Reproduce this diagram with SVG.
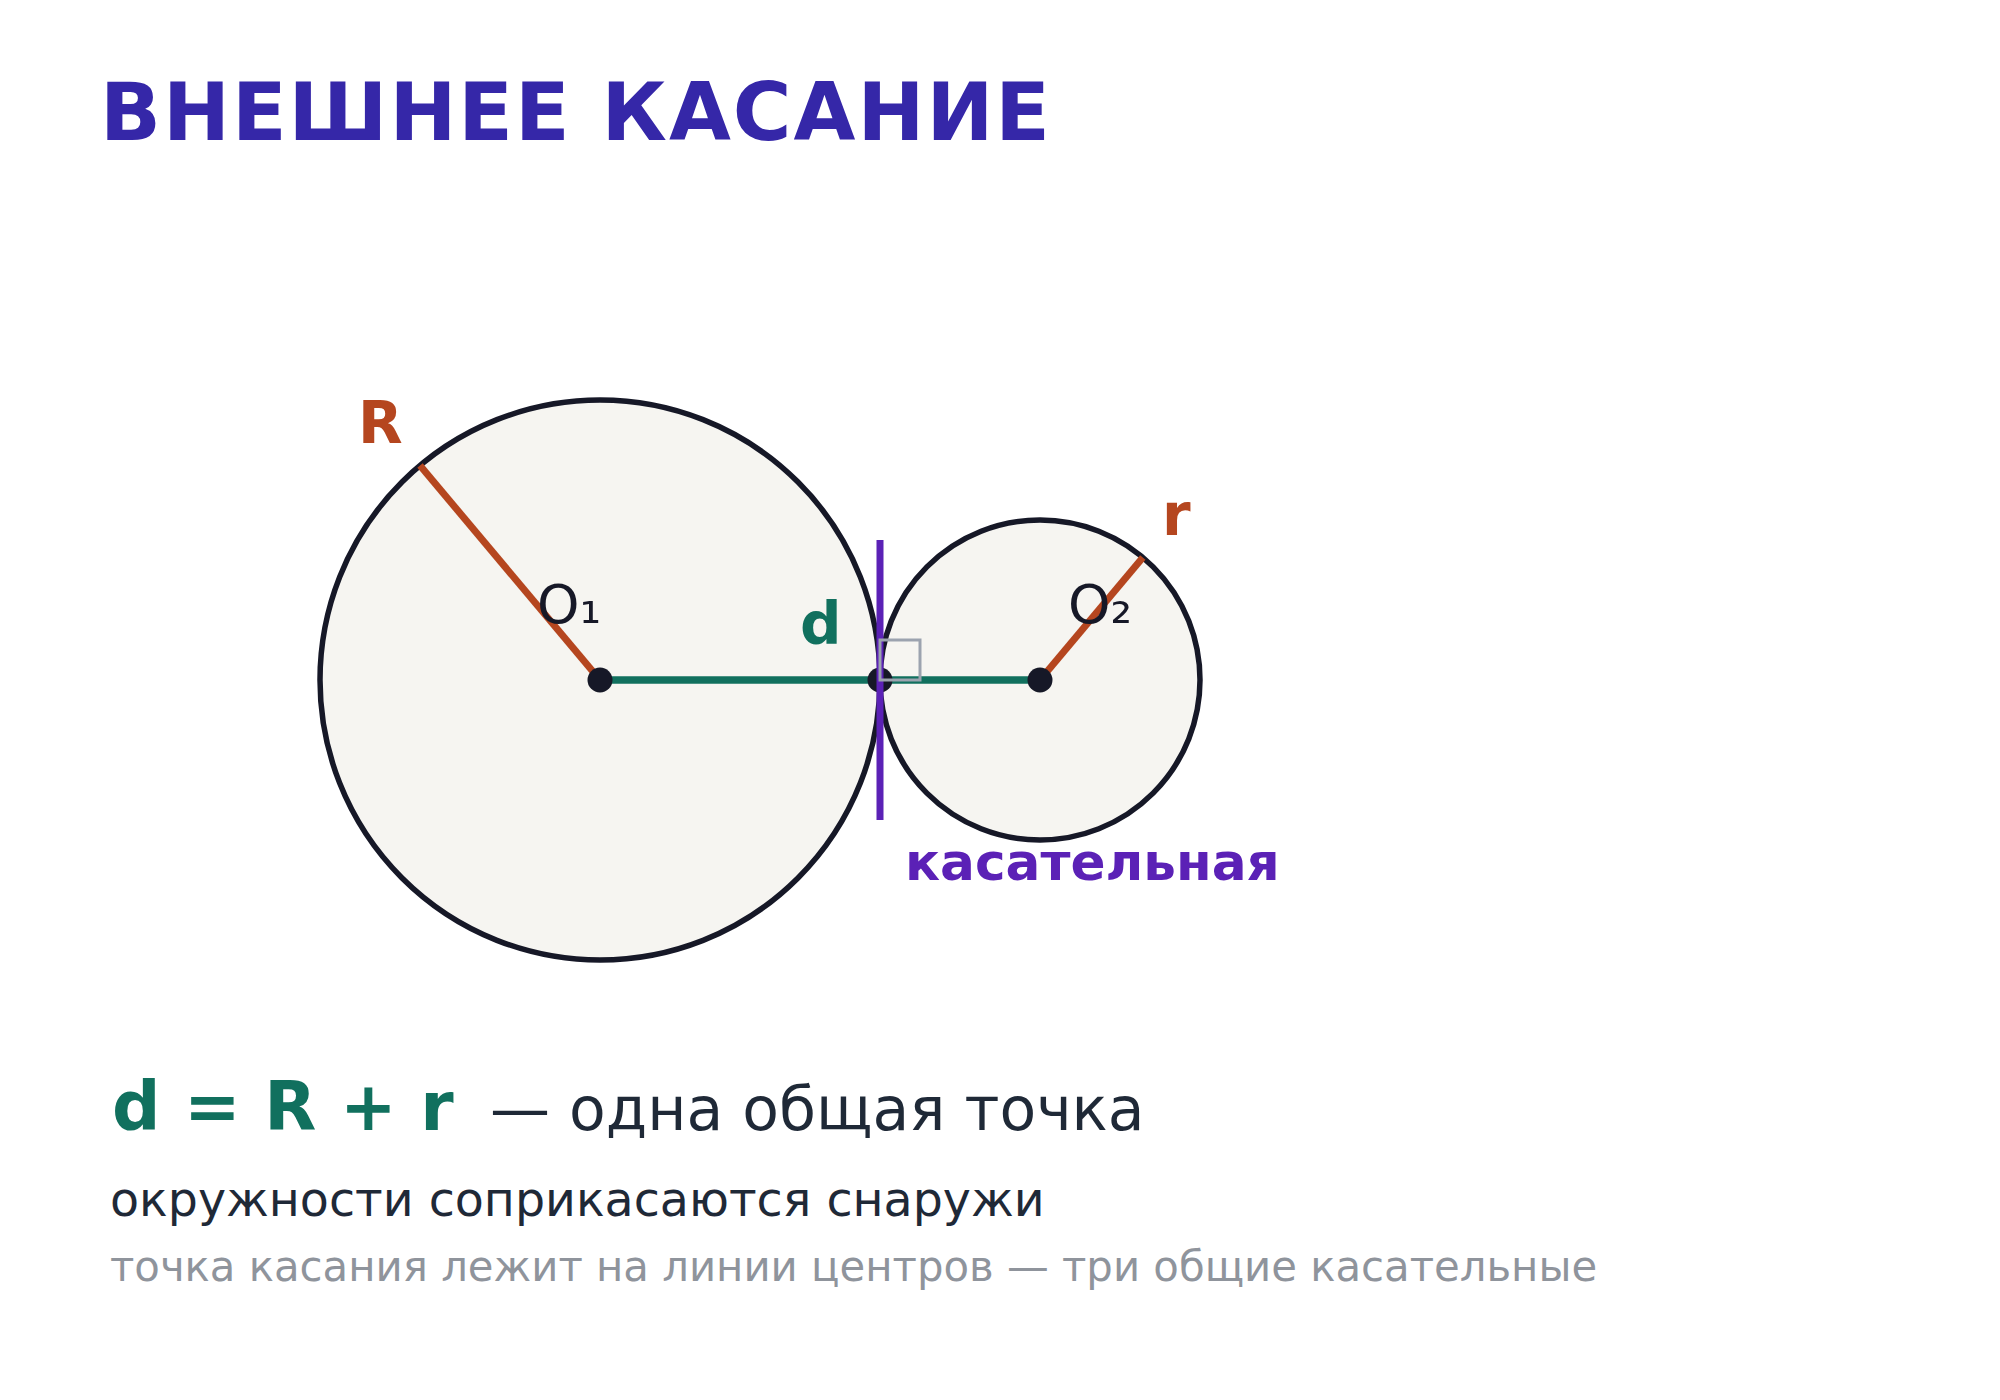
<svg xmlns="http://www.w3.org/2000/svg" width="2000" height="1400" viewBox="0 0 2000 1400">
  <style>
    .circ { fill: #f6f5f1; stroke: #161827; stroke-width: 5.5; }
    .rad { stroke: #b5461f; stroke-width: 7; stroke-linecap: butt; }
    .dist { stroke: #11705e; stroke-width: 7.5; }
    .tan { stroke: #5b21b6; stroke-width: 7; }
    .dot { fill: #161827; }
    .sq { fill: none; stroke: #9ca3af; stroke-width: 3; }
    .lbl { font-family: "DejaVu Sans", sans-serif; }
    .b { font-weight: bold; }
  </style>
  <rect width="2000" height="1400" fill="#ffffff"/>
  <text id="title" class="lbl b" x="100" y="140" font-size="80" letter-spacing="2" fill="#3527a8">ВНЕШНЕЕ КАСАНИЕ</text>
  <g id="circle1">
    <circle class="circ" cx="600" cy="680" r="280"/>
  </g>
  <g id="circle2">
    <circle class="circ" cx="1040" cy="680" r="160"/>
  </g>
  <g id="connectors">
    <line class="rad" x1="600" y1="680" x2="420" y2="465.5"/>
    <line class="rad" x1="1040" y1="680" x2="1142.8" y2="557.4"/>
    <line class="dist" x1="600" y1="680" x2="1040" y2="680"/>
  </g>
  <g id="centers">
    <circle class="dot" cx="600" cy="680" r="12.5"/>
    <circle class="dot" cx="880" cy="680" r="12.5"/>
    <circle class="dot" cx="1040" cy="680" r="12.5"/>
  </g>
  <g id="tangent">
    <line class="tan" x1="880" y1="540" x2="880" y2="820"/>
    <rect class="sq" x="880" y="640" width="40" height="40"/>
    <text class="lbl b" x="905" y="880" font-size="51.7" fill="#5b21b6">касательная</text>
  </g>
  <g id="labels">
    <text class="lbl b" x="358" y="443" font-size="58" fill="#b5461f">R</text>
    <text class="lbl b" x="1162" y="535" font-size="58" fill="#b5461f">r</text>
    <text class="lbl b" x="800" y="644" font-size="58" fill="#11705e">d</text>
    <text class="lbl" x="537" y="623" font-size="54" fill="#161827">O₁</text>
    <text class="lbl" x="1068" y="623" font-size="54" fill="#161827">O₂</text>
  </g>
  <g id="caption">
    <text class="lbl b" x="112" y="1130" font-size="67.7" fill="#11705e">d = R + r</text>
    <text class="lbl" x="490" y="1130" font-size="60" fill="#1f2937">— одна общая точка</text>
    <text class="lbl" x="110" y="1216" font-size="47.5" fill="#1f2937">окружности соприкасаются снаружи</text>
    <text class="lbl" x="110" y="1281" font-size="41.8" fill="#8f949c">точка касания лежит на линии центров — три общие касательные</text>
  </g>
</svg>
